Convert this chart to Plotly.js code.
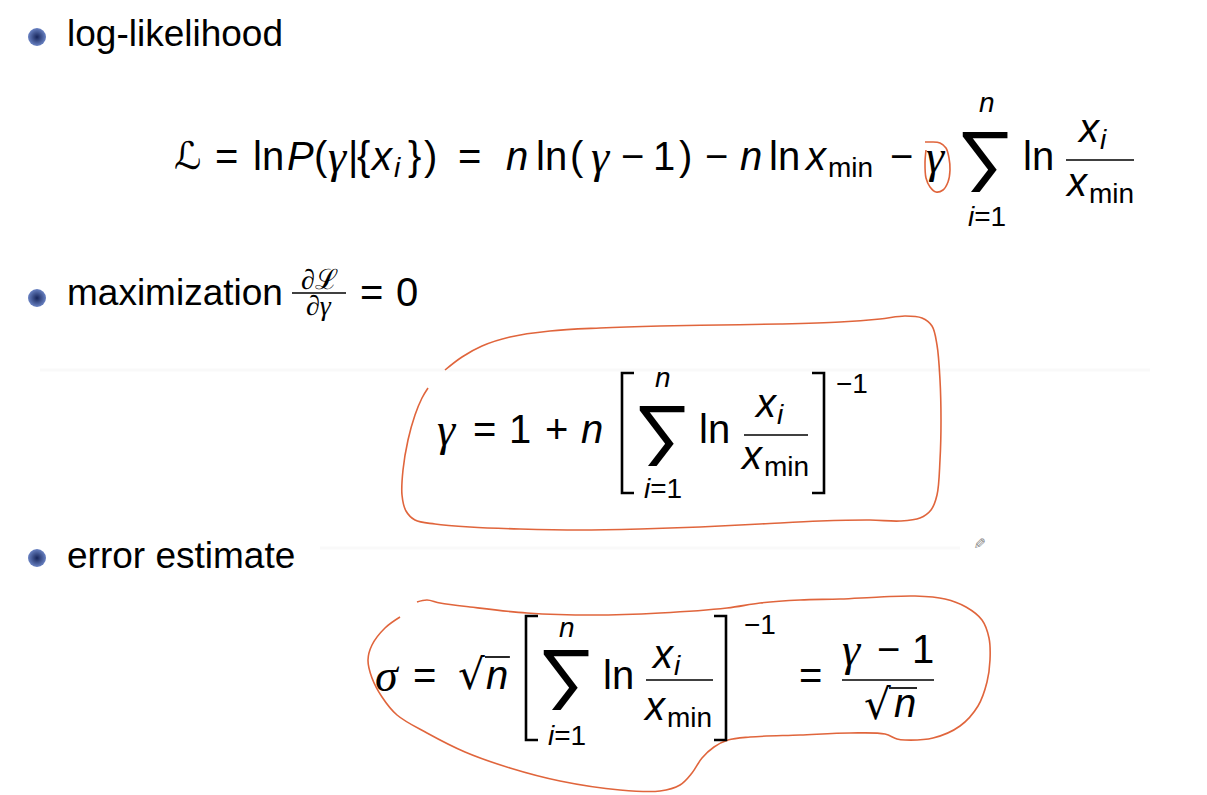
<!DOCTYPE html>
<html><head><meta charset="utf-8">
<script src="https://cdn.plot.ly/plotly-3.0.1.min.js"></script>
<style>html,body{margin:0;padding:0;background:#fff;overflow:hidden}#chart{width:1207px;height:795px}</style>
</head><body><div id="chart"></div>
<script>
// ---------- content ----------
const bulletLabels = ['log-likelihood', 'maximization', 'error estimate'];
const derivTokens = ['∂ℒ', '∂<i>γ</i>', '=', '0'];
const sumSymbol = '∑';
const radicalSymbol = '√';

const eq1Tokens = ['ℒ','=','ln','<i>P</i>','(','<i>γ</i>','|','{','<i>x</i>','<i>i</i>','}',')','=','<i>n</i>','ln','(','<i>γ</i>','−','1',')','−','<i>n</i>','ln','<i>x</i>','min','−','<i>γ</i>','<i>n</i>','<i>i</i>=1','ln','<i>x</i>','<i>i</i>','<i>x</i>','min'];
const eq2Tokens = ['<i>γ</i>','=','1','+','<i>n</i>','<i>n</i>','<i>i</i>=1','ln','<i>x</i>','<i>i</i>','<i>x</i>','min','−1'];
const eq3Tokens = ['<i>σ</i>','=','<i>n</i>','<i>n</i>','<i>i</i>=1','ln','<i>x</i>','<i>i</i>','<i>x</i>','min','−1','=','<i>γ</i>','−','1','<i>n</i>'];

// hand-drawn pen strokes on the slide
const loop1X = [925,931,940,946,949,950,948,943,936,930,926,925,926];
const loop1Y = [142,142,143,148,158,170,182,190,192,187,178,163,150];
const loop2X = [445,462,482,510,550,600,660,720,780,840,880,905,922,932,937,940,941,940,937,931,920,900,870,820,760,700,640,580,520,470,435,415,406,402,403,408,415,422,428];
const loop2Y = [370,357,346,337,331,328,326,325,324,322,319,316,318,326,345,380,420,460,495,510,518,521,520,521,524,527,529,530,529,527,524,520,511,495,470,440,415,398,388];
const loop3X = [400,385,372,368,372,382,397,427,465,510,560,620,660,680,692,702,714,728,750,800,850,885,897,905,933,960,978,987,990,989,982,966,945,915,880,840,800,760,727,660,593,527,470,440,427,417];
const loop3Y = [617,628,645,660,678,697,715,733,752,768,781,790,791,785,773,758,747,740,737,735,733,734,739,740,738,726,706,682,660,638,620,607,599,596,597,599,600,603,608,613,615,613,607,603,600,602];

// ---------- layout positions (pixels of the slide) ----------
const eq1X = [187,226,268,300,321,338,353,363,382,397,414,430,469,517,551,577,601,632,664,685,716,751,784,816,850,901,936,987,987,1038,1089,1103,1077,1111];
const eq1Y = [156,156,156,156,156,156,156,156,156,167,156,156,156,156,156,156,156,156,156,156,156,156,156,156,167,156,156,102,216,156,128,139,182,193];
const eq1S = [38,40,40,40,40,46,40,40,40,28,40,40,40,40,40,40,46,40,40,40,40,40,40,40,28,40,46,28,28,40,40,28,40,28];
const eq2X = [447,484,520,556,592,663,663,714,766,780,752,786,852];
const eq2Y = [429,429,429,429,429,377,488,429,403,414,455,466,383];
const eq2S = [46,40,40,40,40,28,28,40,40,28,40,28,28];
const eq3X = [387,424,497,567,567,618,663,677,655,689,760,810,852,888,923,905];
const eq3Y = [675,675,675,627,735,675,654,665,706,717,624,675,649,649,649,703];
const eq3S = [46,40,40,28,28,40,40,28,40,28,28,40,46,40,40,40];

const FONT = 'Liberation Sans, DejaVu Sans, sans-serif';
const GREEK = 'Liberation Serif, DejaVu Serif, serif';
const SUMFONT = 'Liberation Sans, DejaVu Sans, sans-serif';
const SYMFONT = 'DejaVu Sans, sans-serif';
const PEN = '#e0653c';

const ann = [];
function tok(text, x, y, size, opt) {
  opt = opt || {};
  const fam = opt.family || (/[γσ]/.test(text) ? GREEK : FONT);
  const a = {x: x, y: y, xref: 'x', yref: 'y', text: text, showarrow: false,
    xanchor: opt.xanchor || 'center', yanchor: 'middle', borderpad: 0,
    textangle: opt.angle || 0,
    font: {family: fam, size: size, color: opt.color || '#000', weight: opt.weight || 400}};
  if (opt.height) a.height = opt.height;
  ann.push(a);
}
// bullet labels
const labelY = [33, 292, 555];
bulletLabels.forEach((t, i) => tok(t, 66, labelY[i], 37, {xanchor: 'left'}));
// dL/dgamma = 0
tok(derivTokens[0], 319, 279, 28, {family: GREEK});
tok(derivTokens[1], 319, 305, 28, {family: GREEK});
tok(derivTokens[2], 371, 292, 40);
tok(derivTokens[3], 407, 292, 40);
// equations
eq1Tokens.forEach((t, i) => tok(t, eq1X[i], eq1Y[i], eq1S[i]));
eq2Tokens.forEach((t, i) => tok(t, eq2X[i], eq2Y[i], eq2S[i]));
eq3Tokens.forEach((t, i) => tok(t, eq3X[i], eq3Y[i], eq3S[i]));
// big sums
const sumX = [986, 663, 567], sumY = [161, 435, 679];
sumX.forEach((x, i) => tok(sumSymbol, x, sumY[i], 84, {family: SUMFONT, height: 62}));
// radicals
tok(radicalSymbol, 471, 674, 42, {family: SYMFONT});
tok(radicalSymbol, 877, 704, 42, {family: SYMFONT});
// pencil cursor
tok('✎', 979, 543, 15, {family: SYMFONT, color: '#888', angle: 90});

// typographic rules: fraction bars, overlines, brackets
const shapes = [];
function hline(x0, x1, y, w, c) { shapes.push({type: 'line', xref: 'x', yref: 'y', x0: x0, x1: x1, y0: y, y1: y, line: {color: c || '#000', width: w || 1.7}}); }
function bracket(x, tick, y0, y1) {
  shapes.push({type: 'path', xref: 'x', yref: 'y',
    path: `M${x + tick},${y0} L${x},${y0} L${x},${y1} L${x + tick},${y1}`,
    line: {color: '#000', width: 2.6}});
}
hline(40, 1150, 370, 3, 'rgba(0,0,0,0.025)');
hline(320, 960, 548, 3, 'rgba(0,0,0,0.025)');
hline(292, 346, 293, 1.4);
hline(1066, 1134, 160);
hline(744, 808, 435);
hline(646, 713, 680);
hline(842, 934, 680);
hline(485, 510, 657);
hline(889, 917, 688);
bracket(622, 12, 373, 493);
bracket(824, -12, 373, 493);
bracket(526, 12, 616, 740);
bracket(726, -12, 616, 740);

const traces = [
  {x: [37, 37, 37], y: [37, 298, 558], mode: 'markers', type: 'scatter', hoverinfo: 'skip',
   marker: {size: 18, color: '#6a83c4', gradient: {type: 'radial', color: '#16255a'}, line: {width: 0}}},
  {x: loop1X, y: loop1Y, mode: 'lines', type: 'scatter', hoverinfo: 'skip', line: {color: PEN, width: 1.6, shape: 'spline', smoothing: 1}},
  {x: loop2X, y: loop2Y, mode: 'lines', type: 'scatter', hoverinfo: 'skip', line: {color: PEN, width: 1.6, shape: 'spline', smoothing: 1}},
  {x: loop3X, y: loop3Y, mode: 'lines', type: 'scatter', hoverinfo: 'skip', line: {color: PEN, width: 1.6, shape: 'spline', smoothing: 1}}
];

const layout = {
  width: 1207, height: 795, margin: {l: 0, r: 0, t: 0, b: 0},
  paper_bgcolor: '#fff', plot_bgcolor: '#fff', showlegend: false,
  xaxis: {range: [0, 1207], visible: false, fixedrange: true},
  yaxis: {range: [795, 0], visible: false, fixedrange: true},
  annotations: ann, shapes: shapes
};
Plotly.newPlot('chart', traces, layout, {staticPlot: true, displayModeBar: false});
</script>
</body></html>
